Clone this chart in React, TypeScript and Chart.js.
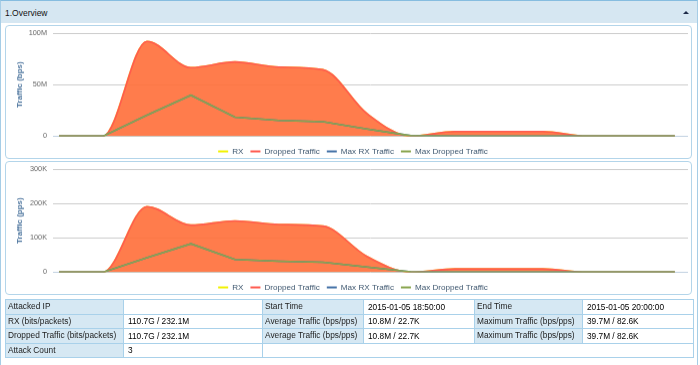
import React, { useEffect, useRef } from "react";
import { Chart, registerables } from "chart.js";

Chart.register(...registerables);

// ---- data ----
const timeLabels = [
  "18:50", "18:55", "19:00", "19:05", "19:10", "19:15", "19:20", "19:25",
  "19:30", "19:35", "19:40", "19:45", "19:50", "19:55", "20:00",
];
const seriesNames = ["RX", "Dropped Traffic", "Max RX Traffic", "Max Dropped Traffic"];

// bits per second (millions)
const rxBpsM = [0, 0, 92, 66.5, 72, 67, 64.5, 22, 0, 4.5, 4.5, 4.5, 0, 0, 0];
const droppedBpsM = [0, 0, 92, 66.5, 72, 67, 64.5, 22, 0, 4.5, 4.5, 4.5, 0, 0, 0];
const maxRxBpsM = [0, 0, 20.5, 39.7, 18.5, 15.3, 14, 7, 0.5, 0, 0, 0, 0, 0, 0];
const maxDroppedBpsM = [0, 0, 20.5, 39.7, 18.5, 15.3, 14, 7, 0.5, 0, 0, 0, 0, 0, 0];

// packets per second (thousands)
const rxPpsK = [0, 0, 191, 137, 149, 139, 134, 46, 0, 9.5, 9.5, 9.5, 0, 0, 0];
const droppedPpsK = [0, 0, 191, 137, 149, 139, 134, 46, 0, 9.5, 9.5, 9.5, 0, 0, 0];
const maxRxPpsK = [0, 0, 42, 82.6, 37, 32, 29, 15, 1, 0, 0, 0, 0, 0, 0];
const maxDroppedPpsK = [0, 0, 42, 82.6, 37, 32, 29, 15, 1, 0, 0, 0, 0, 0, 0];

const bpsTicks = [0, 50e6, 100e6];
const ppsTicks = [0, 100e3, 200e3, 300e3];

const tableRows = [
  ["Attacked IP", "", "Start Time", "2015-01-05 18:50:00", "End Time", "2015-01-05 20:00:00"],
  ["RX (bits/packets)", "110.7G / 232.1M", "Average Traffic (bps/pps)", "10.8M / 22.7K", "Maximum Traffic (bps/pps)", "39.7M / 82.6K"],
  ["Dropped Traffic (bits/packets)", "110.7G / 232.1M", "Average Traffic (bps/pps)", "10.8M / 22.7K", "Maximum Traffic (bps/pps)", "39.7M / 82.6K"],
];
const attackCount = ["Attack Count", "3"];

// ---- styles ----
const FONT = "'Liberation Sans', Arial, Helvetica, sans-serif";
const lineColors = ["#f2f200", "#ff5a4f", "#4572a7", "#89a54e"];
const fillColors = ["rgba(255,255,0,0.75)", "rgba(255,80,80,0.75)", "transparent", "transparent"];

function fmt(v: number) {
  if (v === 0) return "0";
  if (v >= 1e6) return v / 1e6 + "M";
  return v / 1e3 + "K";
}

function buildChart(
  canvas: HTMLCanvasElement,
  series: number[][],
  unit: number,
  ticks: number[],
  title: string
) {
  const datasets = series.map((arr, i) => ({
    label: seriesNames[i],
    data: timeLabels.map((_, k) => ({ x: k, y: arr[k] * unit })),
    borderColor: lineColors[i],
    backgroundColor: fillColors[i],
    borderWidth: 1.6,
    fill: i < 2 ? "origin" : false,
    pointRadius: 0,
    cubicInterpolationMode: i < 2 ? "monotone" : "default",
    tension: 0,
    order: 4 - i,
  }));
  return new Chart(canvas, {
    type: "line",
    data: { datasets } as any,
    options: {
      animation: false,
      responsive: true,
      maintainAspectRatio: false,
      events: [],
      layout: { padding: { left: 12, right: 3, top: 7, bottom: 0 } },
      plugins: {
        tooltip: { enabled: false },
        legend: {
          display: true,
          position: "bottom",
          onClick: () => {},
          labels: {
            boxWidth: 10,
            boxHeight: 2,
            padding: 7,
            color: "#3e576f",
            font: { family: FONT, size: 8.1 },
            generateLabels: (chart: any) =>
              chart.data.datasets.map((ds: any, i: number) => ({
                text: ds.label,
                fillStyle: lineColors[i],
                strokeStyle: lineColors[i],
                lineWidth: 0,
                hidden: false,
                datasetIndex: i,
                fontColor: "#3e576f",
              })),
          },
        },
      },
      scales: {
        x: {
          type: "linear",
          min: -0.136,
          max: 14.3,
          ticks: { display: false },
          grid: {
            display: true,
            drawOnChartArea: false,
            drawTicks: true,
            tickLength: 4,
            color: "transparent",
          },
          border: { display: false },
        },
        y: {
          min: ticks[0],
          max: ticks[ticks.length - 1],
          afterBuildTicks: (s: any) => {
            s.ticks = ticks.map((v) => ({ value: v }));
          },
          afterFit: (s: any) => {
            s.width = 35;
            s.paddingTop = 0;
            s.paddingBottom = 0;
          },
          ticks: {
            padding: 6,
            color: "#666666",
            font: { family: FONT, size: 7.3 },
            callback: (v: any) => fmt(Number(v)),
          },
          grid: {
            drawTicks: false,
            color: (c: any) => (c.tick && c.tick.value === 0 ? "#c0d0e0" : "#cccccc"),
            lineWidth: 1,
          },
          border: { display: false },
          title: {
            display: true,
            text: title,
            color: "#4d759e",
            font: { family: FONT, size: 8, weight: "bold" },
            padding: { top: -3.3, bottom: 0 },
          },
        },
      },
    } as any,
  });
}

function ChartBox(props: {
  top: number;
  series: number[][];
  unit: number;
  ticks: number[];
  title: string;
}) {
  const ref = useRef<HTMLCanvasElement | null>(null);
  useEffect(() => {
    if (!ref.current) return;
    const c = buildChart(ref.current, props.series, props.unit, props.ticks, props.title);
    return () => c.destroy();
  }, []);
  return (
    <>
      <div
        style={{
          position: "absolute",
          left: 5,
          top: props.top - 1,
          width: 687,
          height: 134,
          boxSizing: "border-box",
          border: "1px solid #b3d5ea",
          borderRadius: 4,
          background: "#fff",
        }}
      />
      <div style={{ position: "absolute", left: 6, top: props.top, width: 685, height: 138.5 }}>
        <canvas ref={ref} />
      </div>
    </>
  );
}

const labelCell: React.CSSProperties = {
  background: "#d6e8f3",
  color: "#222",
  border: "1px solid #a9d1ea",
  padding: "0 2px",
  verticalAlign: "top",
  whiteSpace: "nowrap",
  overflow: "hidden",
  height: 13.5,
  lineHeight: "12px",
};
const valueCell: React.CSSProperties = {
  background: "#fff",
  color: "#000",
  border: "1px solid #a9d1ea",
  padding: "0 4px",
  verticalAlign: "middle",
  whiteSpace: "nowrap",
  overflow: "hidden",
  height: 13.5,
  lineHeight: "12px",
};

export default function App() {
  return (
    <div
      style={{
        position: "absolute",
        left: 0,
        top: 0,
        width: 700,
        height: 365,
        background: "#fff",
        fontFamily: FONT,
        overflow: "hidden",
      }}
    >
      {/* outer panel */}
      <div
        style={{
          position: "absolute",
          left: 0,
          top: 0,
          width: 698,
          height: 370,
          boxSizing: "border-box",
          border: "1px solid #a6cde6",
          borderTop: "1px solid #86bde0",
        }}
      />
      {/* header */}
      <div
        style={{
          position: "absolute",
          left: 1,
          top: 1,
          width: 696,
          height: 22,
          background: "#d6e7f2",
        }}
      />
      <div
        style={{
          position: "absolute",
          left: 5,
          top: 8,
          fontSize: 8.5,
          color: "#111",
          lineHeight: "11px",
        }}
      >
        1.Overview
      </div>
      <div
        style={{
          position: "absolute",
          left: 683,
          top: 11,
          width: 0,
          height: 0,
          borderLeft: "3px solid transparent",
          borderRight: "3px solid transparent",
          borderBottom: "3px solid #1d2a48",
        }}
      />

      <ChartBox
        top={26}
        series={[rxBpsM, droppedBpsM, maxRxBpsM, maxDroppedBpsM]}
        unit={1e6}
        ticks={bpsTicks}
        title="Traffic (bps)"
      />
      <ChartBox
        top={162}
        series={[rxPpsK, droppedPpsK, maxRxPpsK, maxDroppedPpsK]}
        unit={1e3}
        ticks={ppsTicks}
        title="Traffic (pps)"
      />

      <table
        style={{
          position: "absolute",
          left: 5,
          top: 299,
          width: 688,
          borderCollapse: "collapse",
          tableLayout: "fixed",
          fontSize: 8.3,
          fontFamily: FONT,
        }}
      >
        <colgroup>
          <col style={{ width: 118 }} />
          <col style={{ width: 139 }} />
          <col style={{ width: 101 }} />
          <col style={{ width: 111 }} />
          <col style={{ width: 108 }} />
          <col style={{ width: 111 }} />
        </colgroup>
        <tbody>
          {tableRows.map((r, i) => (
            <tr key={i}>
              {r.map((t, j) => (
                <td key={j} style={j % 2 === 0 ? labelCell : valueCell}>
                  {t}
                </td>
              ))}
            </tr>
          ))}
          <tr>
            <td style={labelCell}>{attackCount[0]}</td>
            <td style={valueCell}>{attackCount[1]}</td>
            <td style={valueCell} colSpan={4}></td>
          </tr>
        </tbody>
      </table>
    </div>
  );
}
